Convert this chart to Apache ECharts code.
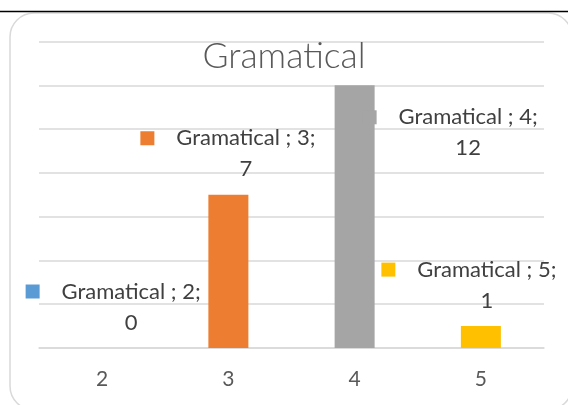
<!DOCTYPE html>
<html><head><meta charset="utf-8">
<script src="https://cdn.jsdelivr.net/npm/echarts@6/dist/echarts.min.js"></script>
<style>html,body{margin:0;padding:0;background:#fff}#c{width:568px;height:405px}</style>
</head><body><div id="c"></div>
<script>
const titleText = 'Gramatical';
const seriesName = 'Gramatical';
const categories = ['2', '3', '4', '5'];
const values = [0, 7, 12, 1];
const barColors = ['#5B9BD5', '#ED7D31', '#A5A5A5', '#FFC000'];
const yMin = 0, yMax = 14, yStep = 2;

// label placement tweaks (presentation only)
const labelOffsets = [[11.5, 0], [0, 0], [96, 88.5], [-11.5, 0]];

const FONT = 'Lato, "Open Sans", sans-serif';
const chart = echarts.init(document.getElementById('c'), null, {renderer: 'canvas'});

const rich = {
  gap: {width: 21, lineHeight: 31},
  sp: {width: 35, lineHeight: 31},
  t: {width: 141, align: 'center', fontSize: 22, fontFamily: FONT, color: '#404040', lineHeight: 31}
};
barColors.forEach((c, i) => { rich['sq' + i] = {width: 14, height: 14, backgroundColor: c, lineHeight: 31}; });

const data = values.map((v, i) => ({
  value: v,
  itemStyle: {color: barColors[i]},
  label: {offset: labelOffsets[i]}
}));

chart.setOption({
  animation: false,
  backgroundColor: '#fff',
  title: {
    text: titleText,
    left: 'center',
    top: 34.5,
    padding: [0, 0, 0, 14],
    textStyle: {fontFamily: FONT, fontSize: 35.5, fontWeight: 300, color: '#595959', lineHeight: 44}
  },
  graphic: [
    {type: 'rect', z: -10, shape: {x: 10, y: 13, width: 562, height: 397, r: 24},
     style: {fill: 'none', stroke: '#d9d9d9', lineWidth: 1.5}},
    {type: 'line', z: -5, shape: {x1: 0, y1: 11.5, x2: 568, y2: 11.5},
     style: {stroke: '#000', lineWidth: 1.5}}
  ],
  grid: {left: 39, right: 24, top: 41.5, bottom: 57, containLabel: false},
  xAxis: {
    type: 'category',
    data: categories,
    axisTick: {show: false},
    axisLine: {lineStyle: {color: '#d9d9d9', width: 1.5}},
    axisLabel: {margin: 21, fontFamily: FONT, fontSize: 21, color: '#595959'}
  },
  yAxis: {
    type: 'value', min: yMin, max: yMax, interval: yStep,
    axisLabel: {show: false}, axisLine: {show: false}, axisTick: {show: false},
    splitLine: {lineStyle: {color: '#d9d9d9', width: 1.5}}
  },
  series: [{
    name: seriesName,
    type: 'bar',
    barWidth: 40,
    data: data,
    label: {
      show: true,
      position: 'top',
      distance: 10,
      lineHeight: 31,
      formatter: p => '{sq' + p.dataIndex + '|}{gap|}{t|' + seriesName + ' ; ' + categories[p.dataIndex] + ';}\n{sp|}{t|' + p.value + '}',
      rich: rich
    }
  }]
});
</script></body></html>
